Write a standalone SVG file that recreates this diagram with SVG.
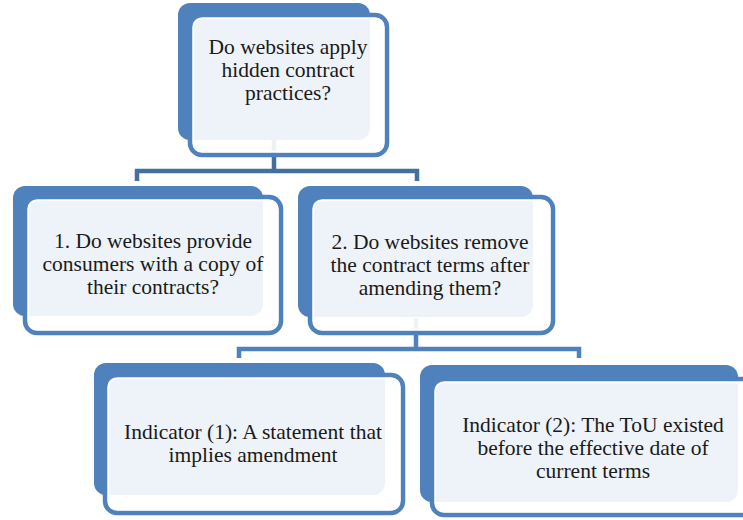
<svg xmlns="http://www.w3.org/2000/svg" width="743" height="520" viewBox="0 0 743 520">
<style>
.back{fill:#4F81BD;}
.front{fill:#FFFFFF;fill-opacity:0.9;stroke:#4F81BD;stroke-width:4.5;}
.ring{fill:none;stroke:#FFFFFF;stroke-width:1.5;}
.conn{fill:none;stroke-width:4.5;stroke-linejoin:miter;}
text{font-family:"Liberation Serif","Times New Roman",serif;font-size:21.5px;fill:#1A1A1A;text-anchor:middle;}
</style>
<rect width="743" height="520" fill="#FFFFFF"/>
<g id="connectors">
<path class="conn" stroke="#44709F" d="M274,140 V171 H137 V181 M274,171 H417 V181"/>
<path class="conn" stroke="#4F81BD" d="M416,318 V349 H239 V358 M416,349 H579 V358"/>
</g>
<g id="node-top">
<rect class="back" x="178" y="3" width="192" height="137" rx="12"/>
<rect class="front" x="190" y="15" width="197" height="140" rx="12"/>
<rect class="ring" x="193.5" y="18.5" width="190" height="133" rx="9"/>
<text x="288" y="54">Do websites apply</text>
<text x="288" y="77">hidden contract</text>
<text x="288" y="100">practices?</text>
</g>
<g id="node-1">
<rect class="back" x="13" y="186" width="250" height="130" rx="12"/>
<rect class="front" x="25" y="197" width="256" height="136" rx="12"/>
<rect class="ring" x="28.5" y="200.5" width="249" height="129" rx="9"/>
<text x="153" y="248">1. Do websites provide</text>
<text x="153" y="271">consumers with a copy of</text>
<text x="153" y="294">their contracts?</text>
</g>
<g id="node-2">
<rect class="back" x="298" y="186" width="235" height="131" rx="12"/>
<rect class="front" x="310" y="197" width="243" height="136" rx="12"/>
<rect class="ring" x="313.5" y="200.5" width="236" height="129" rx="9"/>
<text x="430" y="249">2. Do websites remove</text>
<text x="430" y="272">the contract terms after</text>
<text x="430" y="295">amending them?</text>
</g>
<g id="node-3">
<rect class="back" x="94" y="363" width="291" height="132" rx="12"/>
<rect class="front" x="105" y="375" width="298" height="138" rx="12"/>
<rect class="ring" x="108.5" y="378.5" width="291" height="131" rx="9"/>
<text x="253" y="439">Indicator (1): A statement that</text>
<text x="253" y="462">implies amendment</text>
</g>
<g id="node-4">
<rect class="back" x="420" y="365" width="318" height="137" rx="12"/>
<rect class="front" x="432" y="379" width="330" height="136" rx="12"/>
<rect class="ring" x="435.5" y="382.5" width="323" height="129" rx="9"/>
<text x="593" y="432">Indicator (2): The ToU existed</text>
<text x="593" y="455">before the effective date of</text>
<text x="593" y="478">current terms</text>
</g>
</svg>
